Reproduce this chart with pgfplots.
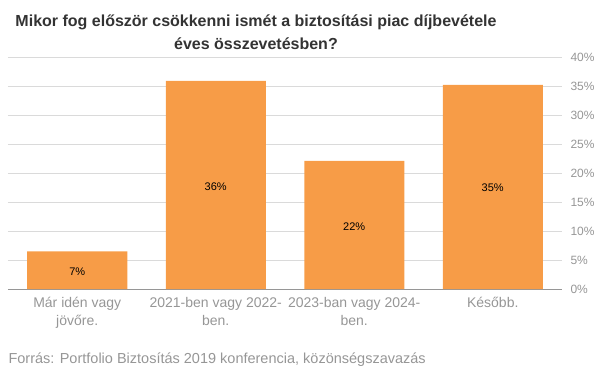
\documentclass[border=0pt]{standalone}
\usepackage{pgfplots}
\pgfplotsset{compat=1.18}
\usepackage{fontspec}
\setmainfont{Liberation Sans}
\definecolor{barc}{RGB}{247,156,71}
\definecolor{tickc}{RGB}{150,150,150}
\definecolor{gridc}{RGB}{218,218,218}
\definecolor{titc}{RGB}{51,51,51}
\begin{document}
\begin{tikzpicture}[x=1pt,y=1pt]
\useasboundingbox (0,0) rectangle (605,378);
\begin{axis}[
  at={(8pt,89pt)}, anchor=south west,
  scale only axis, width=554pt, height=232pt,
  xmin=-0.5, xmax=3.5, ymin=0, ymax=40,
  ytick={0,5,...,40},
  axis x line*=bottom,
  axis y line*=right,
  y axis line style={draw=none},
  x axis line style={tickc, line width=0.8pt, -},
  yticklabel={\pgfmathprintnumber{\tick}\%},
  /pgf/number format/assume math mode=true,
  y tick label style={font=\fontsize{12}{14}\selectfont, text=tickc, anchor=west, xshift=5pt},
  ymajorgrids, grid style={gridc, line width=0.8pt},
  major tick length=0pt,
  xtick=data,
  xticklabels={{Már idén vagy\\jövőre.},{2021-ben vagy 2022-\\ben.},{2023-ban vagy 2024-\\ben.},{Később.}},
  x tick label style={font=\fontsize{14}{18}\selectfont, text=tickc, align=center, anchor=north, yshift=-5pt},
  ybar, bar width=100pt, bar shift=0pt,
  clip=false,
]
\addplot[fill=barc, draw=none] coordinates {(0,6.5) (1,35.9) (2,22.1) (3,35.2)};
\addplot[draw=none, fill=none, point meta=explicit,
  nodes near coords={\pgfmathprintnumber[fixed,precision=0]{\pgfplotspointmeta}\%},
  every node near coord/.style={font=\fontsize{11}{13}\selectfont, text=black, anchor=center}]
  coordinates {(0,3.0)[7] (1,17.7)[36] (2,10.8)[22] (3,17.5)[35]};
\end{axis}
\node[font=\bfseries\fontsize{16}{23}\selectfont, text=titc, align=center] at (256,346) {Mikor fog először csökkenni ismét a biztosítási piac díjbevétele\\éves összevetésben?};
\node[font=\fontsize{14.5}{16}\selectfont, text=tickc, anchor=west] at (5,18) {Forrás: Portfolio Biztosítás 2019 konferencia, közönségszavazás};
\end{tikzpicture}
\end{document}
